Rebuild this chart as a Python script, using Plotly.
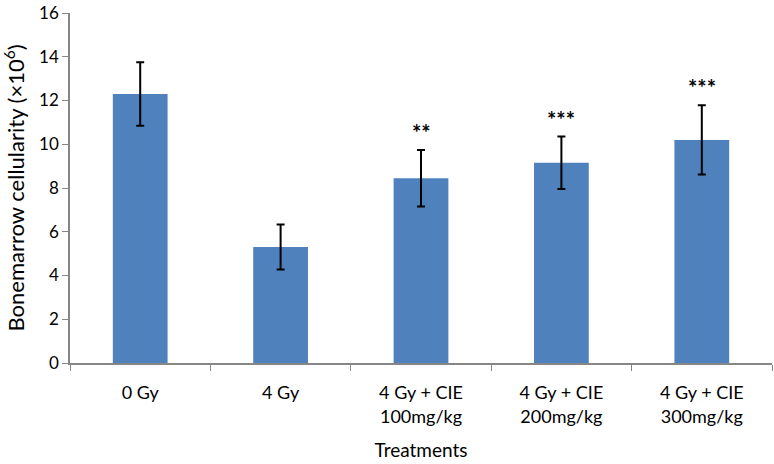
import plotly.graph_objects as go

categories = ["0 Gy", "4 Gy", "4 Gy + CIE<br>100mg/kg", "4 Gy + CIE<br>200mg/kg", "4 Gy + CIE<br>300mg/kg"]
values = [12.3, 5.3, 8.45, 9.15, 10.2]
errors = [1.45, 1.03, 1.29, 1.2, 1.58]
significance = ["", "", "**", "***", "***"]
y_ticks = [0, 2, 4, 6, 8, 10, 12, 14, 16]

font_family = "Lato"

fig = go.Figure()
fig.add_trace(go.Bar(
    x=categories, y=values,
    marker=dict(color="#4F81BD", line=dict(width=0)),
    error_y=dict(type="data", array=errors, visible=True, color="black", thickness=2, width=4),
    width=0.39,
))

for c, v, e, s in zip(categories, values, errors, significance):
    if s:
        fig.add_annotation(x=c, y=v + e, text="<b>" + s + "</b>", showarrow=False, yanchor="bottom",
                           yshift=2, font=dict(size=22, color="black", family=font_family))

fig.update_layout(
    width=774, height=464,
    margin=dict(l=70, r=2, t=9, b=101),
    paper_bgcolor="white", plot_bgcolor="white",
    showlegend=False,
    font=dict(family=font_family, size=17, color="black"),
    bargap=0.61,
)
fig.update_xaxes(
    showline=True, linecolor="#868686", linewidth=1.5,
    ticks="outside", tickson="boundaries", ticklen=6, tickcolor="#868686",
    tickfont=dict(size=18, family=font_family, color="black"), showgrid=False,
    ticklabelstandoff=13,
    title=dict(text="Treatments", font=dict(size=19, family=font_family, color="black"), standoff=18),
)
fig.update_yaxes(
    range=[0, 16], tickmode="array", tickvals=y_ticks, ticklabeloverflow="allow",
    showline=True, linecolor="#868686", linewidth=1.5,
    ticks="outside", ticklen=6, tickcolor="#868686", showgrid=False, zeroline=False,
    tickfont=dict(size=17, family=font_family, color="black"),
    title=dict(text="Bonemarrow cellularity (×10<sup>6</sup>)", font=dict(size=22, family=font_family, color="black"), standoff=8),
)

fig.write_html("out.html", config={"displayModeBar": False},
               post_script="document.body.style.margin='0px';")
